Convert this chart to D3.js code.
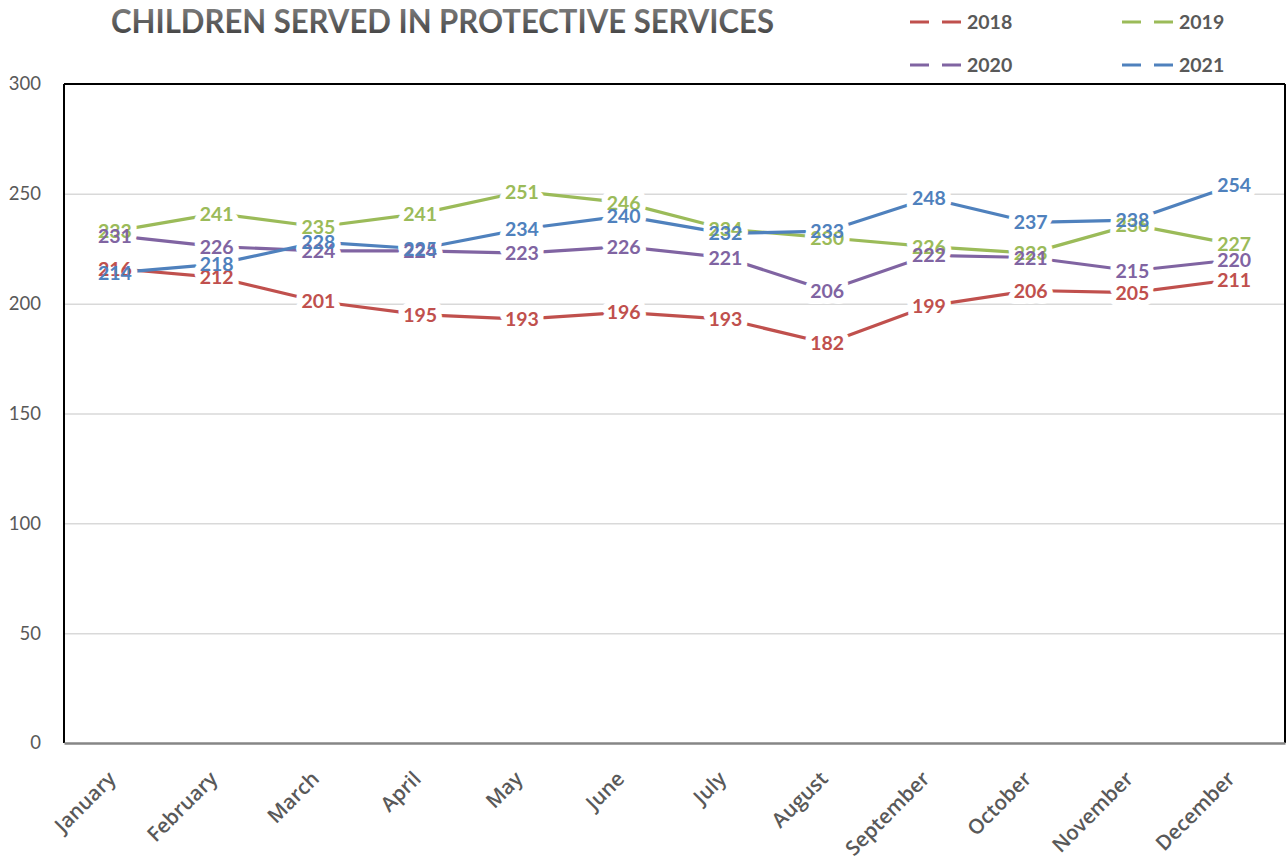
<!DOCTYPE html>
<html>
<head>
<meta charset="utf-8">
<script src="https://cdn.jsdelivr.net/npm/d3@7"></script>
<style>
  html, body { margin: 0; padding: 0; background: #fff; }
  svg { display: block; font-family: Lato, "Open Sans", sans-serif; }
</style>
</head>
<body>
<svg id="chart" width="1287" height="864"></svg>
<script>
const months = ["January","February","March","April","May","June","July","August","September","October","November","December"];
const values2018 = [216, 212, 201, 195, 193, 196, 193, 182, 199, 206, 205, 211];
const values2019 = [233, 241, 235, 241, 251, 246, 234, 230, 226, 223, 236, 227];
const values2020 = [231, 226, 224, 224, 223, 226, 221, 206, 222, 221, 215, 220];
const values2021 = [214, 218, 228, 225, 234, 240, 232, 233, 248, 237, 238, 254];
const seriesNames = ["2018", "2019", "2020", "2021"];
const yTicks = [0, 50, 100, 150, 200, 250, 300];
const titleText = "CHILDREN SERVED IN PROTECTIVE SERVICES";

const seriesValues = [values2018, values2019, values2020, values2021];
const colors = ["#C0504D", "#9BBB59", "#8064A2", "#4F81BD"];

const svg = d3.select("#chart");
const L = 64, R = 1285, T = 84, B = 743;

const x = d3.scaleBand().domain(months).range([L, R]);
const cx = m => x(m) + x.bandwidth() / 2;
const y = d3.scaleLinear().domain([0, 300]).range([B, T]);

// gradient for title
const defs = svg.append("defs");
const grad = defs.append("linearGradient").attr("id", "titleGrad")
  .attr("x1", 0).attr("y1", 0).attr("x2", 0).attr("y2", 1);
grad.append("stop").attr("offset", "0%").attr("stop-color", "#8a8a8a");
grad.append("stop").attr("offset", "100%").attr("stop-color", "#3a3a3a");

// title
svg.append("text")
  .attr("x", 111).attr("y", 33)
  .attr("font-size", 32).attr("font-weight", "bold")
  .attr("fill", "url(#titleGrad)")
  .attr("textLength", 663).attr("lengthAdjust", "spacingAndGlyphs")
  .text(titleText);

// gridlines
svg.append("g")
  .attr("transform", `translate(${L},0)`)
  .call(d3.axisLeft(y).tickValues(yTicks.filter(v => v > 0 && v < 300)).tickSize(-(R - L)).tickFormat(""))
  .call(g => g.select(".domain").remove())
  .call(g => g.selectAll("line").attr("stroke", "#D9D9D9").attr("stroke-width", 1.5));

// y axis labels
svg.append("g")
  .attr("transform", `translate(${L},0)`)
  .call(d3.axisLeft(y).tickValues(yTicks).tickSize(0).tickPadding(23))
  .call(g => g.select(".domain").remove())
  .call(g => g.selectAll("text").attr("font-family", "Lato, sans-serif").attr("font-size", 18.5).attr("fill", "#595959"));

// plot border
svg.append("line").attr("x1", L).attr("x2", R).attr("y1", T).attr("y2", T).attr("stroke", "#000").attr("stroke-width", 2);
svg.append("line").attr("x1", L).attr("x2", L).attr("y1", T).attr("y2", B).attr("stroke", "#000").attr("stroke-width", 2);
svg.append("line").attr("x1", R).attr("x2", R).attr("y1", T).attr("y2", B).attr("stroke", "#000").attr("stroke-width", 2);

// x axis
svg.append("g")
  .attr("transform", `translate(0,${B})`)
  .call(d3.axisBottom(x).tickSize(0).tickPadding(0))
  .call(g => g.select(".domain").attr("stroke", "#868686").attr("stroke-width", 2.5))
  .call(g => g.selectAll(".tick text")
    .attr("font-family", "'Open Sans', sans-serif")
    .attr("font-size", 20.5).attr("font-weight", 600).attr("fill", "#595959")
    .attr("text-anchor", "end")
    .attr("dy", "0.35em")
    .attr("transform", `translate(-3,32) rotate(-45)`));

// lines
const line = d3.line().x((d, i) => cx(months[i])).y(d => y(d));
seriesValues.forEach((vals, s) => {
  svg.append("path").datum(vals)
    .attr("fill", "none").attr("stroke", colors[s]).attr("stroke-width", 3.2)
    .attr("stroke-linejoin", "round")
    .attr("d", line);
});

// label halos
const halo = svg.append("g");
const labels = svg.append("g");
seriesValues.forEach((vals, s) => {
  halo.selectAll(null).data(vals).enter().append("text")
    .attr("x", (d, i) => cx(months[i])).attr("y", d => y(d))
    .attr("dy", "0.36em").attr("text-anchor", "middle")
    .attr("font-size", 19.5).attr("font-weight", "bold")
    .attr("fill", "#fff").attr("stroke", "#fff").attr("stroke-width", 12).attr("stroke-linejoin", "round")
    .text(d => d);
  labels.selectAll(null).data(vals).enter().append("text")
    .attr("x", (d, i) => cx(months[i])).attr("y", d => y(d))
    .attr("dy", "0.36em").attr("text-anchor", "middle")
    .attr("font-size", 19.5).attr("font-weight", "bold")
    .attr("fill", colors[s])
    .text(d => d);
});

// legend
const legendPos = [[910, 22], [1122, 22], [910, 65], [1122, 65]];
seriesNames.forEach((name, s) => {
  const [lx, ly] = legendPos[s];
  const g = svg.append("g").attr("transform", `translate(${lx},${ly})`);
  g.append("line").attr("x1", 0).attr("x2", 52).attr("y1", 0).attr("y2", 0)
    .attr("stroke", colors[s]).attr("stroke-width", 3).attr("stroke-dasharray", "19,13");
  g.append("text").attr("x", 57).attr("y", 0).attr("dy", "0.36em")
    .attr("font-size", 19.5).attr("font-weight", "bold").attr("fill", "#595959")
    .text(name);
});
</script>
</body>
</html>
